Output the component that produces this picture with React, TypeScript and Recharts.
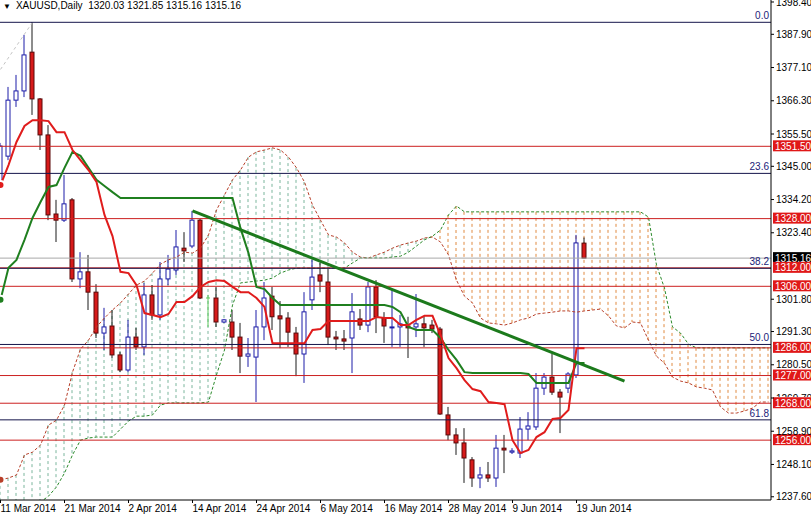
import React from "react";
import { ComposedChart, Bar, Line, XAxis, YAxis, ReferenceLine } from "recharts";

const FONT = '"Liberation Sans", Arial, sans-serif';

// daily bars, index 0 = 11 Mar 2014 ... index 73 = 20 Jun 2014
const opens = [
  1338.6, 1348.3, 1366.5, 1369.5, 1382.1, 1366.9, 1355.2, 1329.5, 1327.5, 1334.1,
  1308.4, 1310.7, 1304.1, 1290.8, 1293.1, 1283.7, 1278.8, 1289.5, 1286.3, 1303.2,
  1296.7, 1308.4, 1311.3, 1318.4, 1319.1, 1327.5, 1302.2, 1302.2, 1294.4, 1294.4,
  1289.5, 1283.3, 1283.0, 1292.8, 1302.8, 1296.4, 1295.7, 1290.8, 1284.0, 1301.6,
  1309.7, 1307.4, 1289.5, 1288.9, 1289.2, 1295.4, 1293.4, 1305.8, 1295.7, 1292.5,
  1292.8, 1293.1, 1292.8, 1293.8, 1293.4, 1292.1, 1264.2, 1257.7, 1255.1, 1249.6,
  1243.7, 1244.7, 1243.7, 1253.4, 1252.1, 1251.8, 1259.6, 1260.3, 1272.9, 1276.5,
  1271.6, 1272.9, 1277.2, 1320.03,
];
const highs = [
  1352.6, 1370.8, 1374.7, 1387.7, 1391.9, 1367.2, 1358.4, 1334.1, 1342.2, 1334.7,
  1317.1, 1316.2, 1306.7, 1299.0, 1298.3, 1284.7, 1295.1, 1292.5, 1307.0, 1306.4,
  1313.9, 1316.2, 1324.3, 1323.6, 1330.5, 1327.9, 1303.2, 1305.8, 1295.4, 1298.3,
  1294.1, 1289.2, 1298.3, 1307.4, 1305.8, 1301.2, 1297.6, 1292.8, 1304.1, 1314.6,
  1313.6, 1311.6, 1291.5, 1291.8, 1303.8, 1298.6, 1307.4, 1308.0, 1297.6, 1304.8,
  1296.7, 1296.1, 1303.5, 1296.1, 1295.1, 1292.8, 1266.8, 1259.9, 1259.9, 1250.5,
  1247.3, 1248.9, 1257.7, 1257.7, 1253.4, 1263.5, 1265.1, 1277.8, 1277.8, 1284.0,
  1272.6, 1278.1, 1322.7, 1321.85,
];
const lows = [
  1337.3, 1347.0, 1364.3, 1367.5, 1361.7, 1350.3, 1327.5, 1320.4, 1326.9, 1307.4,
  1305.4, 1298.3, 1289.2, 1285.3, 1282.7, 1278.1, 1278.1, 1285.3, 1283.7, 1295.1,
  1295.1, 1306.4, 1309.7, 1313.9, 1318.4, 1301.9, 1292.8, 1292.8, 1294.1, 1285.3,
  1277.8, 1279.8, 1268.4, 1288.5, 1291.8, 1285.9, 1286.3, 1276.8, 1274.6, 1298.3,
  1304.1, 1286.9, 1285.3, 1285.3, 1277.8, 1291.8, 1291.1, 1290.8, 1287.6, 1286.3,
  1286.3, 1282.7, 1289.5, 1286.3, 1290.8, 1264.2, 1256.0, 1251.2, 1242.1, 1240.8,
  1240.4, 1242.4, 1240.8, 1245.3, 1251.5, 1250.2, 1256.0, 1259.3, 1270.7, 1270.7,
  1258.3, 1271.3, 1276.2, 1315.16,
];
const closes = [
  1351.6, 1366.5, 1369.5, 1381.2, 1366.9, 1355.2, 1329.2, 1327.5, 1332.8, 1308.4,
  1310.7, 1304.1, 1290.8, 1292.8, 1283.7, 1278.8, 1289.5, 1286.3, 1303.2, 1296.7,
  1308.4, 1311.6, 1318.8, 1317.5, 1327.5, 1302.2, 1302.2, 1294.4, 1295.1, 1289.5,
  1283.3, 1284.0, 1292.8, 1302.2, 1296.1, 1295.4, 1291.1, 1284.0, 1297.7, 1309.0,
  1307.7, 1289.5, 1288.9, 1288.2, 1297.7, 1293.4, 1305.8, 1296.1, 1293.1, 1292.8,
  1293.8, 1292.5, 1293.8, 1292.5, 1292.1, 1264.5, 1257.7, 1255.1, 1250.2, 1243.7,
  1244.7, 1243.7, 1253.4, 1252.8, 1252.5, 1259.6, 1260.6, 1272.9, 1276.5, 1271.6,
  1270.0, 1277.5, 1320.1, 1315.16,
];

// ichimoku
const tenkan = [
  1338.9, 1345.4, 1352.9, 1358.1, 1360.0, 1360.0, 1359.7, 1356.1, 1356.1, 1350.3,
  1347.0, 1343.8, 1339.9, 1329.2, 1322.3, 1310.7, 1310.3, 1306.4, 1297.3, 1296.7,
  1296.0, 1297.0, 1300.9, 1300.9, 1302.8, 1305.8, 1307.4, 1308.0, 1307.7, 1305.8,
  1304.1, 1304.1, 1302.2, 1299.3, 1287.5, 1287.5, 1287.5, 1287.5, 1287.5, 1291.8,
  1292.1, 1294.7, 1294.7, 1294.7, 1294.7, 1294.7, 1294.7, 1296.0, 1295.7, 1295.7,
  1293.4, 1293.4, 1295.1, 1296.4, 1296.4, 1290.2, 1282.7, 1279.4, 1275.5, 1272.6,
  1271.9, 1268.4, 1268.1, 1267.7, 1256.0, 1251.8, 1252.8, 1257.0, 1258.6, 1262.9,
  1263.2, 1265.8, 1285.9, 1285.9,
];
const kijun = [
  1301.6, 1312.0, 1314.6, 1321.1, 1328.2, 1333.4, 1338.3, 1338.9, 1344.5, 1349.7,
  1348.4, 1344.5, 1340.6, 1338.6, 1336.6, 1334.7, 1334.7, 1334.7, 1334.7, 1334.7,
  1334.7, 1334.7, 1334.7, 1334.7, 1334.7, 1334.7, 1334.7, 1334.7, 1334.7, 1334.7,
  1324.9, 1316.8, 1305.8, 1305.1, 1302.2, 1299.9, 1299.9, 1299.9, 1299.9, 1299.9,
  1299.9, 1299.9, 1299.9, 1299.9, 1299.9, 1299.9, 1299.9, 1299.9, 1299.9, 1299.3,
  1297.6, 1292.8, 1291.8, 1291.8, 1291.8, 1289.2, 1285.3, 1282.1, 1278.1, 1277.8,
  1277.8, 1277.8, 1277.8, 1277.8, 1277.8, 1277.8, 1277.5, 1274.6, 1274.6, 1274.6,
  1274.6, 1274.6, 1281.1, 1281.1,
];
// senkou spans run 26 bars past the last candle
const spanA = [
  1243.1, 1243.7, 1244.7, 1251.2, 1252.1, 1254.4, 1260.9, 1262.5, 1267.4, 1278.1,
  1285.6, 1288.5, 1292.8, 1295.7, 1298.3, 1300.6, 1303.5, 1306.4, 1307.7, 1310.3,
  1313.2, 1314.6, 1315.5, 1317.1, 1316.8, 1318.4, 1322.7, 1330.8, 1335.7, 1340.6,
  1343.8, 1348.0, 1349.7, 1350.3, 1351.0, 1350.3, 1348.0, 1344.5, 1339.9, 1332.4,
  1327.5, 1322.7, 1322.0, 1320.1, 1317.1, 1315.5, 1315.2, 1316.2, 1317.1, 1318.4,
  1319.4, 1320.1, 1320.7, 1321.7, 1322.0, 1320.4, 1316.2, 1308.0, 1302.8, 1300.6,
  1295.7, 1294.1, 1293.8, 1293.4, 1294.1, 1295.1, 1295.7, 1297.0, 1297.3, 1297.6,
  1298.0, 1298.0, 1297.6, 1298.0, 1298.3, 1298.6, 1296.4, 1293.1, 1292.5, 1294.4,
  1294.1, 1288.5, 1283.3, 1281.0, 1276.5, 1275.2, 1274.6, 1273.3, 1272.9, 1272.3,
  1266.8, 1264.8, 1264.8, 1265.5, 1266.4, 1268.4, 1268.4,
];
const spanB = [
  1223.5, 1226.8, 1230.0, 1232.6, 1234.3, 1235.9, 1237.8, 1240.8, 1245.3, 1251.2,
  1256.0, 1256.7, 1257.0, 1257.0, 1257.0, 1259.6, 1262.2, 1263.8, 1263.8, 1264.2,
  1267.4, 1268.1, 1268.1, 1268.1, 1268.1, 1268.1, 1268.4, 1277.2, 1285.3, 1299.9,
  1307.1, 1307.4, 1307.7, 1308.0, 1308.7, 1310.3, 1311.3, 1311.9, 1311.9, 1311.9,
  1311.9, 1311.9, 1311.9, 1311.9, 1313.6, 1315.2, 1315.2, 1315.2, 1315.2, 1315.5,
  1315.8, 1317.1, 1319.1, 1321.1, 1322.3, 1324.3, 1329.2, 1332.1, 1330.2, 1330.2,
  1330.2, 1330.2, 1330.2, 1330.2, 1330.2, 1330.2, 1330.2, 1330.2, 1330.2, 1330.2,
  1330.2, 1330.2, 1330.2, 1330.2, 1330.2, 1330.2, 1330.2, 1330.2, 1330.2, 1330.2,
  1330.2, 1328.5, 1312.9, 1305.4, 1292.8, 1290.8, 1287.2, 1286.0, 1286.0, 1286.0,
  1286.0, 1286.0, 1286.0, 1286.0, 1286.0, 1286.0, 1286.0,
];

const dateTicks = [0, 8, 16, 24, 32, 40, 48, 56, 64, 72];
const dateLabels = [
  "11 Mar 2014", "21 Mar 2014", "2 Apr 2014", "14 Apr 2014", "24 Apr 2014",
  "6 May 2014", "16 May 2014", "28 May 2014", "9 Jun 2014", "19 Jun 2014",
];
// 1312.60 sits fully under the 1312.00 box, 1269.70 half under the 1268.00 box
const priceTicks = [
  1398.4, 1387.9, 1377.1, 1366.3, 1355.5, 1345.0, 1334.2, 1323.4,
  1301.8, 1291.3, 1280.5, 1269.7, 1258.9, 1248.1, 1237.6,
];
const halfHiddenTicks = [1269.7];

const redLevels = [1351.5, 1328.0, 1312.0, 1306.0, 1286.0, 1277.0, 1268.0, 1256.0];
const fibLevels = [1391.8, 1342.7, 1311.85, 1287.1, 1262.6];
const fibNames = ["0.0", "23.6", "38.2", "50.0", "61.8"];
const fibDiagonal = [
  { i: 4, price: 1391.8 },
  { i: -3, price: 1365.0 },
];
const lastPrice = 1315.16;
const trendFrom = { i: 24, price: 1330.5 };
const trendTo = { i: 78, price: 1275.2 };
const title = "XAUUSD,Daily  1320.03 1321.85 1315.16 1315.16";

const rows = spanA.map((a, i) => ({
  i,
  candle: i < opens.length ? [lows[i], highs[i]] : null,
  tenkan: i < tenkan.length ? tenkan[i] : null,
  kijun: i < kijun.length ? kijun[i] : null,
  spanA: a,
  spanB: spanB[i],
  cloud: [Math.min(a, spanB[i]), Math.max(a, spanB[i])],
}));

const xDomain = [-0.0625, 96.3125];

function Candle(props: any) {
  const { x, y, width, height, payload } = props;
  if (!payload || payload.candle == null) return null;
  const k = payload.i;
  const o = opens[k], c = closes[k], h = highs[k], l = lows[k];
  const top = Math.min(y, y + height);
  const hh = Math.abs(height);
  const yOf = (v: number) => top + ((h - v) / (h - l || 1)) * hh;
  const cx = x + width / 2;
  const up = c > o;
  const doji = c === o;
  const wick = doji ? "#5cc85c" : up ? "#1c1ca8" : "#1a1a1a";
  const b1 = yOf(Math.max(o, c));
  const b2 = yOf(Math.min(o, c));
  return (
    <g>
      <line x1={cx} x2={cx} y1={top} y2={top + hh} stroke={wick} />
      {doji ? (
        <line x1={cx - 2} x2={cx + 2} y1={b1} y2={b1} stroke={wick} />
      ) : (
        <rect
          x={cx - 2}
          y={b1}
          width={4}
          height={Math.max(b2 - b1, 1)}
          fill={up ? "#ffffff" : "#d71a1a"}
          stroke={up ? "#1c1ca8" : "#5a0808"}
        />
      )}
    </g>
  );
}

function Hatch(props: any) {
  const { x, y, width, height, payload } = props;
  if (!payload) return null;
  const cx = x + width / 2;
  const top = Math.min(y, y + height);
  const green = payload.spanA >= payload.spanB;
  return (
    <line
      x1={cx}
      x2={cx}
      y1={top}
      y2={top + Math.abs(height)}
      stroke={green ? "#7ab59c" : "#e08a40"}
      strokeDasharray="3 3"
    />
  );
}

function AxisBox(props: any) {
  const { viewBox, fill, text } = props;
  const x = viewBox.x + viewBox.width;
  const y = viewBox.y;
  return (
    <g>
      <rect x={x + 2} y={y - 6} width={38} height={11} fill={fill} />
      <text x={x + 4} y={y + 3.5} fill="#ffffff" fontSize={10} fontFamily={FONT}>
        {text}
      </text>
    </g>
  );
}

function FibLabel(props: any) {
  const { viewBox, text } = props;
  return (
    <text
      x={viewBox.x + viewBox.width - 2}
      y={viewBox.y - 3}
      textAnchor="end"
      fill="#1c1c78"
      fontSize={10}
      fontFamily={FONT}
    >
      {text}
    </text>
  );
}

function PriceTick(props: any) {
  const { x, y, payload } = props;
  const half = halfHiddenTicks.includes(payload.value);
  const id = "tick-clip-" + String(payload.value).replace(".", "_");
  return (
    <g>
      {half && (
        <defs>
          <clipPath id={id}>
            <rect x={x - 2} y={y - 8} width={44} height={7} />
          </clipPath>
        </defs>
      )}
      <text
        x={x}
        y={y + 3.5}
        fontSize={10}
        fontFamily={FONT}
        fill="#000"
        textAnchor="start"
        clipPath={half ? `url(#${id})` : undefined}
      >
        {payload.value.toFixed(2)}
      </text>
    </g>
  );
}

function DateTick(props: any) {
  const { x, payload } = props;
  const label = dateLabels[dateTicks.indexOf(payload.value)];
  return (
    <text x={x} y={512} fontSize={10} fontFamily={FONT} fill="#000" textAnchor="start">
      {label}
    </text>
  );
}

export default function App() {
  return (
    <div style={{ position: "absolute", left: 0, top: 0, width: 811, height: 516, background: "#fff" }}>
      <ComposedChart
        width={811}
        height={516}
        data={rows}
        margin={{ top: 0, right: 0, bottom: 0, left: 0 }}
      >
        <XAxis
          dataKey="i"
          type="number"
          domain={xDomain}
          allowDataOverflow
          ticks={dateTicks}
          interval={0}
          tick={<DateTick />}
          tickSize={3}
          height={16}
          stroke="#000"
        />
        <XAxis xAxisId="cloud" dataKey="i" type="number" domain={xDomain} allowDataOverflow hide />
        <YAxis
          orientation="right"
          width={40}
          domain={[1236.55, 1399.05]}
          allowDataOverflow
          ticks={priceTicks}
          interval={0}
          tick={<PriceTick />}
          tickSize={3}
          tickMargin={2}
          stroke="#000"
        />

        <Bar xAxisId="cloud" dataKey="cloud" barSize={1} shape={(p: any) => <Hatch {...p} />} isAnimationActive={false} />
        <Line dataKey="spanA" stroke="#b8402a" strokeWidth={1} strokeDasharray="3 2" dot={false} isAnimationActive={false} />
        <Line dataKey="spanB" stroke="#2a8a2a" strokeWidth={1} strokeDasharray="3 2" dot={false} isAnimationActive={false} />

        <ReferenceLine
          segment={[
            { x: fibDiagonal[0].i, y: fibDiagonal[0].price },
            { x: fibDiagonal[1].i, y: fibDiagonal[1].price },
          ]}
          ifOverflow="hidden"
          stroke="#c4c4c4"
          strokeDasharray="3 3"
        />
        <ReferenceLine y={lastPrice} stroke="#a8a8a8" label={<AxisBox fill="#000000" text={lastPrice.toFixed(2)} />} />
        {redLevels.map((v) => (
          <ReferenceLine key={"r" + v} y={v} stroke="#cc2020" label={<AxisBox fill="#e01818" text={v.toFixed(2)} />} />
        ))}
        {fibLevels.map((v, k) => (
          <ReferenceLine key={"f" + v} y={v} stroke="#14144a" label={<FibLabel text={fibNames[k]} />} />
        ))}

        <Bar dataKey="candle" barSize={5} shape={(p: any) => <Candle {...p} />} isAnimationActive={false} />

        <Line dataKey="kijun" stroke="#1f7f1f" strokeWidth={2} dot={false} isAnimationActive={false} />
        <Line dataKey="tenkan" stroke="#e01c1c" strokeWidth={2} dot={false} isAnimationActive={false} />

        <ReferenceLine
          segment={[
            { x: trendFrom.i, y: trendFrom.price },
            { x: trendTo.i, y: trendTo.price },
          ]}
          stroke="#1c7a1c"
          strokeWidth={3}
        />
      </ComposedChart>
      <div
        style={{
          position: "absolute",
          left: 3,
          top: 0,
          fontFamily: FONT,
          fontSize: 10,
          lineHeight: "12px",
          whiteSpace: "pre",
          color: "#000",
        }}
      >
        <span style={{ fontSize: 8, marginRight: 5 }}>▼</span>
        {title}
      </div>
    </div>
  );
}
